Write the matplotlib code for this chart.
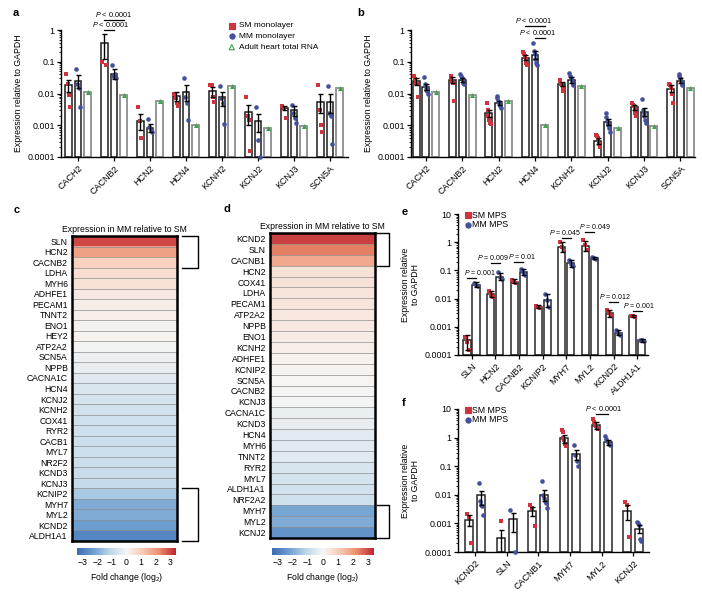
import matplotlib as mpl

mpl.use("Agg")

import matplotlib.pyplot as plt
import numpy as np
from matplotlib.cm import ScalarMappable
from matplotlib.colors import LinearSegmentedColormap, Normalize

plt.rcParams["font.family"] = ["Liberation Sans", "DejaVu Sans"]
mpl.rcParams.update(
    {
        "font.size": 6.4,
        "mathtext.fontset": "custom",
        "mathtext.rm": "Liberation Sans",
        "mathtext.it": "Liberation Sans:italic",
        "axes.spines.right": False,
        "axes.spines.top": False,
        "axes.linewidth": 1.0,
        "xtick.major.size": 3,
        "ytick.major.size": 3,
        "ytick.minor.size": 1.6,
        "xtick.major.width": 0.9,
        "ytick.major.width": 0.9,
        "ytick.minor.width": 0.6,
    }
)

W, H = 702, 601

SM_RED = "#d0333d"
MM_BLUE = "#44509c"
ADULT_GREEN = "#3ea64e"

# ---------------- panels a / b: monolayers ----------------
AB_GENES = ["CACH2", "CACNB2", "HCN2", "HCN4", "KCNH2", "KCNJ2", "KCNJ3", "SCN5A"]
ADULT_RNA = [0.011, 0.0088, 0.0058, 0.001, 0.017, 0.0008, 0.00095, 0.015]

A_SM_MEAN = [0.018, 0.40, 0.0014, 0.0085, 0.012, 0.0027, 0.0035, 0.0055]
A_SM_LO = [0.011, 0.12, 0.0007, 0.006, 0.008, 0.001, 0.003, 0.0025]
A_SM_HI = [0.027, 0.75, 0.0023, 0.011, 0.016, 0.0045, 0.004, 0.0095]
A_SM_PTS = [
    [0.04, 0.02, 0.009, 0.0037],
    [0.1, 0.08],
    [0.0037, 0.0014, 0.0004, 0.0004],
    [0.01, 0.007, 0.005, 0.004],
    [0.018, 0.018, 0.008, 0.0055],
    [0.0075, 0.002, 0.0015, 0.00015],
    [0.004, 0.0035, 0.0017],
    [0.018, 0.003, 0.001, 0.0006],
]
A_MM_MEAN = [0.025, 0.04, 0.0008, 0.011, 0.0075, 0.0014, 0.003, 0.0055]
A_MM_LO = [0.015, 0.028, 0.0006, 0.006, 0.004, 0.0006, 0.002, 0.0025]
A_MM_HI = [0.038, 0.06, 0.0011, 0.018, 0.011, 0.0023, 0.004, 0.0095]
A_MM_PTS = [
    [0.06, 0.02, 0.015, 0.0038],
    [0.08, 0.035, 0.04, 0.03],
    [0.0016, 0.0009, 0.0007, 0.0006],
    [0.03, 0.008, 0.005, 0.0015],
    [0.017, 0.007, 0.005, 0.0011],
    [0.0038, 0.00035, 0.0001],
    [0.0045, 0.0025, 0.0017, 0.0012],
    [0.017, 0.0025, 0.002, 0.00025],
]

B_SM_MEAN = [0.025, 0.027, 0.0024, 0.13, 0.02, 0.00032, 0.0037, 0.014]
B_SM_LO = [0.019, 0.021, 0.0018, 0.11, 0.017, 0.00025, 0.003, 0.011]
B_SM_HI = [0.031, 0.032, 0.003, 0.16, 0.023, 0.0004, 0.0044, 0.018]
B_SM_PTS = [
    [0.035, 0.028, 0.022, 0.02, 0.008],
    [0.035, 0.03, 0.025, 0.022, 0.006],
    [0.005, 0.003, 0.002, 0.0015, 0.0012, 0.0011],
    [0.2, 0.18, 0.15, 0.12, 0.09, 0.08],
    [0.026, 0.024, 0.02, 0.018, 0.015, 0.012],
    [0.0005, 0.00045, 0.0004, 0.00025, 0.0002],
    [0.005, 0.0045, 0.004, 0.003, 0.0025, 0.002],
    [0.02, 0.018, 0.015, 0.01, 0.005],
]
B_MM_MEAN = [0.016, 0.026, 0.005, 0.16, 0.027, 0.0013, 0.0027, 0.025]
B_MM_LO = [0.013, 0.023, 0.0043, 0.12, 0.022, 0.001, 0.002, 0.021]
B_MM_HI = [0.02, 0.03, 0.0058, 0.22, 0.032, 0.0016, 0.0035, 0.03]
B_MM_PTS = [
    [0.033, 0.02, 0.016, 0.013, 0.012, 0.01],
    [0.04, 0.035, 0.03, 0.025, 0.022, 0.02],
    [0.0085, 0.007, 0.006, 0.005, 0.004, 0.0035],
    [0.4, 0.22, 0.18, 0.12, 0.09, 0.08],
    [0.045, 0.035, 0.03, 0.025, 0.02, 0.018],
    [0.0024, 0.0018, 0.0014, 0.0012, 0.001, 0.0008, 0.0006],
    [0.0065, 0.003, 0.0025, 0.002, 0.0015, 0.0012],
    [0.04, 0.035, 0.03, 0.025, 0.02, 0.018],
]

# ---------------- panels c / d: fold change heatmaps ----------------
C_GENES = [
    "SLN", "HCN2", "CACNB2", "LDHA", "MYH6", "ADHFE1", "PECAM1", "TNNT2", "ENO1",
    "HEY2", "ATP2A2", "SCN5A", "NPPB", "CACNA1C", "HCN4", "KCNJ2", "KCNH2",
    "COX41", "RYR2", "CACB1", "MYL7", "NR2F2", "KCND3", "KCNJ3", "KCNIP2",
    "MYH7", "MYL2", "KCND2", "ALDH1A1",
]
C_FOLD = [
    3.0, 1.9, 0.9, 0.6, 0.55, 0.3, 0.22, 0.18, 0.12,
    0.08, -0.1, -0.2, -0.3, -0.45, -0.55, -0.65, -0.7,
    -0.75, -0.78, -0.8, -0.82, -0.85, -0.9, -0.95, -1.4,
    -2.0, -2.0, -2.3, -2.8,
]
D_GENES = [
    "KCND2", "SLN", "CACNB1", "HCN2", "COX41", "LDHA", "PECAM1", "ATP2A2",
    "NPPB", "ENO1", "KCNH2", "ADHFE1", "KCNIP2", "SCN5A", "CACNB2", "KCNJ3",
    "CACNA1C", "KCND3", "HCN4", "MYH6", "TNNT2", "RYR2", "MYL7", "ALDH1A1",
    "NRF2A2", "MYH7", "MYL2", "KCNJ2",
]
D_FOLD = [
    3.1, 2.4, 1.7, 0.5, 0.48, 0.45, 0.4, 0.35,
    0.3, 0.25, 0.2, 0.15, 0.1, 0.05, -0.05, -0.1,
    -0.25, -0.3, -0.35, -0.4, -0.45, -0.6, -0.65, -0.7,
    -0.75, -2.1, -2.0, -2.5,
]

# ---------------- panel e: MPS ----------------
E_GENES = ["SLN", "HCN2", "CACNB2", "KCNIP2", "MYH7", "MYL2", "KCND2", "ALDH1A1"]
E_SM_MEAN = [0.00035, 0.014, 0.04, 0.005, 0.7, 0.75, 0.003, 0.0024]
E_SM_LO = [0.00015, 0.011, 0.035, 0.0045, 0.45, 0.5, 0.0022, 0.0022]
E_SM_HI = [0.0005, 0.018, 0.048, 0.0058, 1.0, 1.1, 0.004, 0.0026]
E_SM_PTS = [
    [0.00045, 0.0003, 0.00015], [0.018, 0.013, 0.011], [0.045, 0.04, 0.037],
    [0.0055, 0.005, 0.0047], [1.0, 0.7, 0.5], [1.2, 0.8, 0.55],
    [0.004, 0.003, 0.0025], [0.0025, 0.0024, 0.0023],
]
E_MM_MEAN = [0.03, 0.06, 0.09, 0.009, 0.18, 0.27, 0.0006, 0.00033]
E_MM_LO = [0.025, 0.045, 0.07, 0.005, 0.13, 0.25, 0.0005, 0.0003]
E_MM_HI = [0.04, 0.08, 0.11, 0.014, 0.24, 0.29, 0.0008, 0.00036]
E_MM_PTS = [
    [0.035, 0.03, 0.028], [0.085, 0.06, 0.05], [0.11, 0.09, 0.07],
    [0.014, 0.009, 0.005], [0.24, 0.17, 0.14], [0.29, 0.27, 0.26],
    [0.0008, 0.0006, 0.0005], [0.00035, 0.00033, 0.00031],
]
E_PVALUES = ["0.001", "0.009", "0.01", "0.045", "0.049", "0.012", "0.001"]
E_P_GROUP = [0, 1, 2, 4, 5, 6, 7]
E_P_LINE_Y = [0.054, 0.18, 0.2, 1.4, 2.3, 0.0076, 0.0036]

# ---------------- panel f: MPS ----------------
F_GENES = ["KCND2", "SLN", "CACNB1", "MYH7", "MYL2", "KCNJ2"]
F_SM_MEAN = [0.0013, 0.0003, 0.0028, 0.95, 2.7, 0.0028]
F_SM_LO = [0.0008, 0.0001, 0.0018, 0.65, 2.0, 0.0013]
F_SM_HI = [0.0019, 0.0006, 0.0037, 1.25, 3.4, 0.0043]
F_SM_PTS = [
    [0.0022, 0.0017, 0.0002], [0.0012], [0.0045, 0.0035, 0.0008],
    [1.8, 1.6, 1.0, 0.8, 0.6, 0.5], [4.5, 3.5, 2.8, 2.5, 2.2, 2.0],
    [0.0055, 0.0045, 0.00033],
]
F_MM_MEAN = [0.0095, 0.0014, 0.01, 0.27, 0.7, 0.00065]
F_MM_LO = [0.0045, 0.0005, 0.006, 0.17, 0.55, 0.00045]
F_MM_HI = [0.014, 0.0023, 0.015, 0.37, 0.85, 0.00085]
F_MM_PTS = [
    [0.025, 0.006, 0.0045, 0.004, 0.002], [0.003, 0.0001],
    [0.03, 0.01, 0.008, 0.006, 0.005, 0.0035],
    [0.55, 0.25, 0.15, 0.1], [1.1, 0.9, 0.7, 0.6, 0.55],
    [0.0011, 0.001, 0.0009, 0.00028, 0.00025],
]

FOLD_CMAP = LinearSegmentedColormap.from_list(
    "fold",
    ["#3a6cb2", "#6e9fd0", "#bcd6ea", "#f7f6f4", "#f7c9b3", "#eb8d6c", "#bf2430"],
)
FOLD_NORM = Normalize(vmin=-3.4, vmax=3.4)


def px_axes(fig, x0, y0, x1, y1):
    return fig.add_axes([x0 / W, 1 - y1 / H, (x1 - x0) / W, (y1 - y0) / H])


def draw_group(ax, xs, mean, lo, hi, pts, color, marker, width, edge):
    floor = ax.get_ylim()[0]
    ax.bar(xs, np.array(mean) - floor, width, bottom=floor, color="white",
           edgecolor=edge, linewidth=1.1, zorder=2)
    for x, values in zip(xs, pts):
        n = len(values)
        jitter = np.linspace(-0.28, 0.28, n) * width if n > 1 else [0.0]
        ax.scatter(x + np.asarray(jitter), values, s=11, marker=marker, color=color,
                   linewidths=0, zorder=3, clip_on=False)
    mean = np.array(mean)
    ax.errorbar(xs, mean, yerr=[mean - np.array(lo), np.array(hi) - mean], fmt="none",
                ecolor="black", elinewidth=1.0, capsize=1.8, capthick=1.0, zorder=4)


def style_log_axis(ax, ylim, genes, xlim, ylabel):
    ax.set_yscale("log")
    ax.set_ylim(*ylim)
    ax.set_xlim(*xlim)
    decades = np.arange(int(np.log10(ylim[0])), int(np.log10(ylim[1])) + 1)
    ax.set_yticks(10.0 ** decades, [f"{10.0 ** d:g}" for d in decades])
    ax.tick_params(axis="y", labelsize=6.4, pad=1.5)
    ax.set_xticks(np.arange(len(genes)), genes, rotation=45, ha="right",
                  rotation_mode="anchor", fontsize=6.5)
    ax.tick_params(axis="x", pad=2)
    ax.set_ylabel(ylabel, fontsize=6.3, labelpad=3)


def sig(ax, x0, x1, y, text, tx=None, fs=5.2):
    ax.plot([x0, x1], [y, y], color="black", lw=0.9, clip_on=False, zorder=5)
    tx = (x0 + x1) / 2 if tx is None else tx
    ax.text(tx, y * 1.08, text, ha="center", va="bottom", fontsize=fs, clip_on=False)


def legend_rows(ax, entries, x, y, dy, fs):
    for k, (label, color, marker, face) in enumerate(entries):
        yy = y - k * dy
        ax.scatter([x], [yy], s=14, marker=marker, facecolors=face, edgecolors=color,
                   linewidths=0.8, transform=ax.transAxes, clip_on=False, zorder=6)
        ax.text(x + 0.025, yy, label, transform=ax.transAxes, va="center",
                ha="left", fontsize=fs)


def monolayer_panel(fig, box, xlim, sm, mm):
    ax = px_axes(fig, *box)
    style_log_axis(ax, (1e-4, 1), AB_GENES, xlim, "Expression relative to GAPDH")
    idx = np.arange(len(AB_GENES))
    draw_group(ax, idx - 0.27, *sm, SM_RED, "s", 0.19, "#1c1c1c")
    draw_group(ax, idx, *mm, MM_BLUE, "o", 0.19, "#1c1c1c")
    floor = ax.get_ylim()[0]
    ax.bar(idx + 0.27, np.array(ADULT_RNA) - floor, 0.19, bottom=floor, color="white",
           edgecolor="#8e8e8e", linewidth=1.3, zorder=2)
    ax.scatter(idx + 0.27, ADULT_RNA, s=13, marker="^", color=ADULT_GREEN,
               linewidths=0, zorder=3)
    return ax


def heatmap_panel(fig, box, cbox, genes, values, brackets, bx):
    ax = px_axes(fig, *box)
    n = len(genes)
    ax.imshow(np.array(values)[:, None], cmap=FOLD_CMAP, norm=FOLD_NORM, aspect="auto",
              extent=(0, 1, n, 0), interpolation="nearest")
    ax.set_xlim(0, 1)
    ax.set_ylim(n, 0)
    for k in range(1, n):
        ax.axhline(k, color="#8f8f8f", lw=0.5)
    ax.set_xticks([])
    ax.set_yticks(np.arange(n) + 0.5, genes, fontsize=6.2)
    ax.tick_params(axis="y", length=0, pad=3)
    for spine in ax.spines.values():
        spine.set_visible(True)
        spine.set_linewidth(1.8)
    ax.set_title("Expression in MM relative to SM", fontsize=6.2, pad=3)
    for r0, r1 in brackets:
        ax.plot([bx[0], bx[1], bx[1], bx[0]], [r0, r0, r1, r1], color="black", lw=1.0,
                transform=ax.get_yaxis_transform(), clip_on=False)
    cax = px_axes(fig, *cbox)
    cbar = fig.colorbar(ScalarMappable(norm=FOLD_NORM, cmap=FOLD_CMAP), cax=cax,
                        orientation="horizontal")
    cbar.outline.set_visible(False)
    cbar.set_ticks(range(-3, 4))
    cax.tick_params(length=0, labelsize=6.3, pad=2)
    cbar.set_label("Fold change (log$_2$)", fontsize=6.3, labelpad=3)


def mps_panel(fig, box, genes, xlim, off, width, sm, mm):
    ax = px_axes(fig, *box)
    style_log_axis(ax, (1e-4, 10), genes, xlim, "Expression relative\nto GAPDH")
    idx = np.arange(len(genes))
    draw_group(ax, idx - off, *sm, SM_RED, "s", width, "#262626")
    draw_group(ax, idx + off, *mm, MM_BLUE, "o", width, "#262626")
    legend_rows(ax, [("SM MPS", SM_RED, "s", SM_RED), ("MM MPS", MM_BLUE, "o", MM_BLUE)],
                0.05, 0.99, 0.065, 6.3)
    return ax


def main():
    fig = plt.figure(figsize=(W / 100, H / 100), dpi=100)

    # a
    ax_a = monolayer_panel(fig, (61, 30, 348, 157), (-0.47, 7.5),
                           (A_SM_MEAN, A_SM_LO, A_SM_HI, A_SM_PTS),
                           (A_MM_MEAN, A_MM_LO, A_MM_HI, A_MM_PTS))
    legend_rows(ax_a, [("SM monolayer", SM_RED, "s", SM_RED),
                       ("MM monolayer", MM_BLUE, "o", MM_BLUE),
                       ("Adult heart total RNA", ADULT_GREEN, "^", "none")],
                0.595, 1.035, 0.085, 6.0)
    sig(ax_a, 0.73, 1.0, 1.0, "$P$ < 0.0001", tx=0.9)
    sig(ax_a, 0.73, 1.27, 2.1, "$P$ < 0.0001")

    # b
    ax_b = monolayer_panel(fig, (411, 30, 695, 157), (-0.41, 7.4),
                           (B_SM_MEAN, B_SM_LO, B_SM_HI, B_SM_PTS),
                           (B_MM_MEAN, B_MM_LO, B_MM_HI, B_MM_PTS))
    sig(ax_b, 2.73, 3.27, 1.33, "$P$ < 0.0001", tx=2.96)
    sig(ax_b, 3.0, 3.27, 0.56, "$P$ < 0.0001", tx=3.06)

    # c, d
    heatmap_panel(fig, (72, 236, 177, 541), (77, 548, 176, 555), C_GENES, C_FOLD,
                  [(0, 3), (24, 29)], (1.05, 1.2))
    heatmap_panel(fig, (270, 233, 375, 538), (272, 548, 374, 555), D_GENES, D_FOLD,
                  [(0, 3), (25, 28)], (1.02, 1.13))

    # e
    ax_e = mps_panel(fig, (458, 214, 648, 355), E_GENES, (-0.57, 7.45), 0.19, 0.3,
                     (E_SM_MEAN, E_SM_LO, E_SM_HI, E_SM_PTS),
                     (E_MM_MEAN, E_MM_LO, E_MM_HI, E_MM_PTS))
    e_text_x = [0.36, 0.92, 2.15, 3.95, 5.2, 6.05, 7.05]
    for g, pv, y, tx in zip(E_P_GROUP, E_PVALUES, E_P_LINE_Y, e_text_x):
        sig(ax_e, g - 0.19, g + 0.19, y, f"$P$ = {pv}", tx=tx, fs=5.0)

    # f
    ax_f = mps_panel(fig, (458, 409, 649, 552), F_GENES, (-0.54, 5.5), 0.19, 0.25,
                     (F_SM_MEAN, F_SM_LO, F_SM_HI, F_SM_PTS),
                     (F_MM_MEAN, F_MM_LO, F_MM_HI, F_MM_PTS))
    sig(ax_f, 3.81, 4.19, 6.7, "$P$ < 0.0001", tx=4.05)

    for letter, x, y in [("a", 13, 13), ("b", 357, 13), ("c", 14, 210), ("d", 223, 209),
                         ("e", 402, 212), ("f", 402, 403)]:
        fig.text(x / W, 1 - y / H, letter, fontsize=8, fontweight="bold",
                 ha="left", va="center")

    fig.savefig("out.png", dpi=100)
    plt.close(fig)


if __name__ == "__main__":
    main()
